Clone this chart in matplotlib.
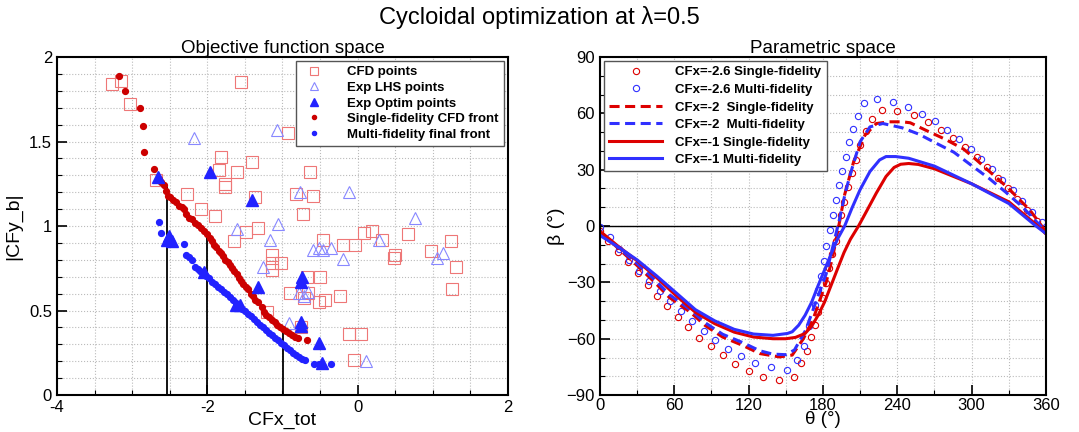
import numpy as np
import matplotlib.pyplot as plt
from matplotlib.ticker import MultipleLocator, FormatStrFormatter

plt.rcParams['font.family'] = ['Liberation Sans', 'DejaVu Sans']

# ---- objective function space ----
cfd_x = [-3.27, -3.15, -3.03, -1.55, -0.92, -1.82, -1.41, -1.84, -1.60, -1.76, -1.77, -0.63,
         -2.27, -1.36, -0.82, -0.59, -2.09, -1.90, -0.73, -2.68, -1.33, -1.49, -1.64, -0.46,
         -0.19, -0.03, 0.08, 0.19, 0.32, 0.67, 0.49, 0.50, 0.97, 1.24, 1.31, 1.26, -1.14,
         -1.14, -1.14, -1.02, -0.90, -0.67, -0.66, -0.72, -0.50, -0.52, -0.44, -0.24, -1.21,
         -0.75, -0.12, 0.05, -0.05]
cfd_y = [1.84, 1.86, 1.72, 1.85, 1.55, 1.41, 1.38, 1.33, 1.32, 1.25, 1.23, 1.32,
         1.19, 1.17, 1.19, 1.18, 1.10, 1.06, 1.07, 1.27, 0.99, 0.965, 0.91, 0.92,
         0.89, 0.89, 0.96, 0.97, 0.92, 0.95, 0.81, 0.83, 0.855, 0.91, 0.76, 0.63, 0.83,
         0.78, 0.74, 0.78, 0.605, 0.70, 0.605, 0.575, 0.70, 0.55, 0.565, 0.585, 0.49,
         0.40, 0.36, 0.36, 0.205]

lhs_x = [-2.18, -1.07, -0.77, -0.11, 0.76, -1.60, -1.06, -1.16, 0.29, -0.60, -0.51, -0.19,
         -1.26, 1.06, 1.13, -0.78, -0.72, -0.91, 0.11, -0.66, -0.46, -0.36]
lhs_y = [1.52, 1.57, 1.20, 1.20, 1.05, 0.98, 1.01, 0.92, 0.915, 0.86, 0.87, 0.805,
         0.755, 0.81, 0.84, 0.605, 0.585, 0.425, 0.20, 0.61, 0.86, 0.87]

opt_x = [-2.66, -1.97, -1.41, -2.51, -2.54, -2.47, -2.04, -1.33, -1.62, -1.56, -0.75, -0.74,
         -0.75, -0.75, -0.51, -0.47]
opt_y = [1.29, 1.32, 1.155, 0.94, 0.92, 0.91, 0.73, 0.64, 0.535, 0.53, 0.67, 0.70,
         0.43, 0.41, 0.31, 0.19]

sf_x = [-3.17, -3.09, -2.90, -2.85, -2.84, -2.71, -2.64, -2.61, -2.58, -2.55, -2.52, -2.49,
        -2.46, -2.42, -2.38, -2.34, -2.31, -2.28, -2.24, -2.20, -2.16, -2.12, -2.09, -2.05,
        -2.01, -1.97, -1.94, -1.91, -1.88, -1.85, -1.82, -1.79, -1.76, -1.73, -1.70, -1.67,
        -1.64, -1.61, -1.58, -1.55, -1.52, -1.49, -1.46, -1.42, -1.39, -1.36, -1.32, -1.27,
        -1.25, -1.22, -1.18, -1.14, -1.10, -1.07, -1.03, -0.99, -0.95, -0.91, -0.87, -0.83,
        -0.79, -0.67]
sf_y = [1.89, 1.80, 1.70, 1.59, 1.44, 1.34, 1.28, 1.26, 1.24, 1.21, 1.18, 1.17,
        1.155, 1.14, 1.12, 1.11, 1.10, 1.07, 1.05, 1.04, 1.02, 1.005, 0.99, 0.97,
        0.95, 0.93, 0.91, 0.89, 0.875, 0.855, 0.84, 0.82, 0.80, 0.785, 0.77, 0.75,
        0.735, 0.715, 0.695, 0.675, 0.66, 0.64, 0.625, 0.60, 0.585, 0.565, 0.55, 0.52,
        0.49, 0.475, 0.46, 0.445, 0.43, 0.415, 0.40, 0.39, 0.38, 0.365, 0.355, 0.345,
        0.335, 0.326]

mf_x = [-2.64, -2.61, -2.31, -2.28, -2.24, -2.21, -2.16, -2.13, -2.10, -2.06, -2.02, -1.98,
        -1.94, -1.90, -1.86, -1.82, -1.78, -1.74, -1.70, -1.66, -1.62, -1.58, -1.54, -1.50,
        -1.46, -1.42, -1.38, -1.34, -1.30, -1.26, -1.22, -1.18, -1.14, -1.10, -1.06, -1.02,
        -0.98, -0.94, -0.90, -0.86, -0.82, -0.78, -0.74, -0.70, -0.58, -0.52, -0.35]
mf_y = [1.025, 0.96, 0.895, 0.83, 0.815, 0.80, 0.76, 0.745, 0.735, 0.72, 0.705, 0.69,
        0.67, 0.655, 0.64, 0.625, 0.61, 0.595, 0.58, 0.56, 0.545, 0.53, 0.51, 0.495,
        0.48, 0.465, 0.45, 0.435, 0.415, 0.40, 0.385, 0.37, 0.355, 0.34, 0.325, 0.31,
        0.295, 0.28, 0.265, 0.25, 0.235, 0.225, 0.215, 0.205, 0.183, 0.183, 0.181]

vline_x = [-2.54, -2.0, -0.99]
vline_top = [1.23, 0.95, 0.40]

# ---- parametric space ----
sf26_t = [0, 6.5, 14.9, 22.7, 30.5, 38.4, 46.2, 54.3, 62.7, 71.3, 80.2, 89.6, 99.2, 109.1,
          120.1, 131.9, 144.8, 156.5, 162.5, 166.9, 170.3, 173.5, 176.1, 180, 182.6, 185.2,
          187.5, 190.2, 192.8, 194.9, 197.3, 200.4, 203.5, 206.6, 210.2, 214.5, 219.2, 227.5,
          240, 253.4, 264.5, 275, 285.2, 294.6, 304, 312.1, 321, 329, 336.8, 344.9, 352.4, 360]
sf26_b = [-2.5, -8, -13.6, -19.4, -25.2, -31.2, -37, -42.7, -48.5, -53.8, -59.5, -64, -68.8,
          -73.2, -77.1, -80.3, -82, -80.3, -72.9, -66.5, -59.3, -52.8, -45.8, -38.4, -30.3,
          -22.5, -15, -8, -1.2, 5.8, 13, 20.8, 28.2, 35.2, 43.1, 50.5, 57.2, 62, 61.5, 58.9,
          55.4, 51.3, 46.7, 42.1, 36.9, 31.4, 25.8, 20.1, 14.3, 8.7, 2.9, -2.5]

mf26_t = [0, 7.8, 15.6, 23.5, 31.3, 39.9, 48.3, 56.7, 65.3, 74.4, 83.6, 92.7, 103.1, 113.6,
          125.3, 137.9, 150.7, 159.3, 164.3, 168.8, 173.5, 176.1, 178.7, 180.5, 182.6, 185.5,
          187.8, 190.4, 193, 195.7, 198.3, 200.9, 204, 208, 213, 223.3, 236.2, 248.3, 259.6,
          270.1, 280.4, 290, 299.4, 307.2, 316.7, 324.7, 333.1, 340.9, 349, 356.5]
mf26_b = [-0.5, -5.8, -12, -18.2, -23.8, -29.1, -34.4, -40, -45.3, -50.8, -55.9, -60.9,
          -65.3, -69.3, -72.9, -75.3, -76.4, -71.4, -63.9, -53, -42.3, -34.3, -26.4, -18.8,
          -10.6, -2.3, 5.8, 14.1, 22, 29.4, 37, 44.5, 51.6, 58.5, 65.3, 67.5, 66.1, 63.6,
          59.7, 55.7, 51.3, 46.2, 41.1, 35.8, 30.2, 24.5, 19.3, 13.5, 7.6, 2.0]

sf2_t = [0, 15, 30, 45, 56, 73, 85, 99, 115, 129, 145, 155.2, 164.3, 172.2, 182.6, 187.8,
         193, 197.5, 204.8, 213.9, 223.1, 233.5, 244, 250.4, 264, 278.4, 293.5, 303.9, 319.6,
         330, 337.8, 347, 360]
sf2_b = [-3, -12, -21, -30.5, -38, -45.9, -53, -59.1, -63.5, -67.9, -69.7, -68.7, -59.9,
         -49.3, -29.9, -16.7, 0.9, 16.7, 34.3, 48.4, 54.6, 55.5, 55.5, 55, 50.7, 46.3, 41,
         35.2, 26, 19.9, 14.6, 8.5, -3]

mf2_t = [0, 15, 30, 45, 56, 73, 85, 99, 115, 129, 139.5, 150, 157, 166, 174, 182.6, 189.1,
         193, 198.3, 203.5, 210, 217.9, 228.3, 244, 257.5, 272.6, 285.7, 300, 314.4, 327.4,
         341, 360]
mf2_b = [-3, -11.5, -20, -29, -36.5, -44.5, -51.5, -57.6, -62, -66.4, -68.2, -68.5, -66,
         -55.5, -41, -25.5, -7.9, 2.6, 18.5, 30.8, 44.9, 52.8, 54.6, 52.3, 48.9, 43.7, 39.3,
         32.2, 25.2, 18.1, 10.2, -3]

sf1_t = [0, 14.4, 30, 45.7, 61.4, 77, 92.7, 108.4, 124, 139.7, 150, 157.8, 165.6, 170.9,
         176.1, 181.3, 186.5, 191.7, 197, 202.2, 208.7, 215.2, 223.1, 230.9, 237.4, 242.7,
         249.2, 257, 270, 300, 330, 351, 360]
sf1_b = [-2.7, -10.6, -18.5, -27.4, -37, -45.9, -52, -56.5, -59.1, -60, -60, -59.3, -57.2,
         -53.3, -47.5, -40.5, -31.7, -22.9, -14.1, -7, 0, 7.9, 17.6, 26.4, 31.2, 32.9,
         33.3, 32.8, 30.5, 22.5, 12.9, 1.4, -4]

mf1_t = [0, 14.4, 30, 45.7, 61.4, 77, 92.7, 108.4, 124, 139.7, 151.3, 155.2, 160.4, 165.6,
         170.9, 176.1, 181.3, 186.5, 191.7, 197.5, 203.5, 210, 217.9, 225.7, 230.9, 238.7,
         249.2, 270, 300, 330, 351, 360]
mf1_b = [-5, -11, -18, -26.5, -35.5, -44.5, -50.5, -55, -57.5, -58.2, -57.2, -56.3, -52.8,
         -47.5, -40.5, -31.7, -23.4, -15, -7, 0, 9.7, 19.4, 29, 35.2, 37, 37, 36.1, 31.9,
         22.5, 12, 0.5, -4]

red = '#dd0000'
blue = '#3030ff'

fig = plt.figure(figsize=(10.79, 4.32), dpi=100)
fig.text(0.5, 0.96, 'Cycloidal optimization at \u03bb=0.5', fontsize=17, ha='center', va='center')

ax1 = fig.add_axes([0.0528, 0.0855, 0.418, 0.7825])
ax1.plot(cfd_x, cfd_y, 's', ms=8, mfc='none', mec='#ee7777', mew=0.8, label='CFD points')
ax1.plot(lhs_x, lhs_y, '^', ms=9, mfc='none', mec='#8888ff', mew=0.8, label='Exp LHS points')
ax1.plot(opt_x, opt_y, '^', ms=8, color='#2222ff', mec='#2222ff', label='Exp Optim points', zorder=4)
ax1.plot(sf_x, sf_y, 'o', ms=4.2, color='#cc0000', label='Single-fidelity CFD front', zorder=3)
ax1.plot(mf_x, mf_y, 'o', ms=4.2, color='#2222ff', label='Multi-fidelity final front', zorder=3)
for xv, yt in zip(vline_x, vline_top):
    ax1.plot([xv, xv], [0, yt], color='black', lw=1.3, zorder=2)
ax1.set_xlim(-4, 2)
ax1.set_ylim(0, 2)
ax1.xaxis.set_major_locator(MultipleLocator(2))
ax1.xaxis.set_minor_locator(MultipleLocator(0.5))
ax1.yaxis.set_major_locator(MultipleLocator(0.5))
ax1.yaxis.set_minor_locator(MultipleLocator(0.1))
ax1.xaxis.set_major_formatter(FormatStrFormatter('%g'))
ax1.yaxis.set_major_formatter(FormatStrFormatter('%g'))
ax1.set_xlabel('CFx_tot', fontsize=14, labelpad=-2)
ax1.set_ylabel('|CFy_b|', fontsize=14)
ax1.yaxis.set_label_coords(-0.078, 0.5)
ax1.set_title('Objective function space', fontsize=13.5, pad=2)
ax1.legend(loc='upper right', prop={'weight': 'bold', 'size': 9.5}, fancybox=False,
           edgecolor='#555555', framealpha=1, borderaxespad=0.3, handletextpad=1.5,
           labelspacing=0.25, markerscale=0.7)

ax2 = fig.add_axes([0.556, 0.0855, 0.4134, 0.7825])
ax2.axhline(0, color='black', lw=1, zorder=1)
ax2.plot(sf26_t, sf26_b, 'o', ms=4.5, mfc='none', mec=red, mew=0.8, label='CFx=-2.6 Single-fidelity')
ax2.plot(mf26_t, mf26_b, 'o', ms=4.5, mfc='none', mec=blue, mew=0.8, label='CFx=-2.6 Multi-fidelity')
ax2.plot(sf2_t, sf2_b, '--', color=red, lw=2.2, dashes=(3.3, 1.8), label='CFx=-2  Single-fidelity')
ax2.plot(mf2_t, mf2_b, '--', color=blue, lw=2.2, dashes=(3.3, 1.8), label='CFx=-2  Multi-fidelity')
ax2.plot(sf1_t, sf1_b, '-', color=red, lw=2.2, label='CFx=-1 Single-fidelity')
ax2.plot(mf1_t, mf1_b, '-', color=blue, lw=2.2, label='CFx=-1 Multi-fidelity')
ax2.set_xlim(0, 360)
ax2.set_ylim(-90, 90)
ax2.xaxis.set_major_locator(MultipleLocator(60))
ax2.xaxis.set_minor_locator(MultipleLocator(30))
ax2.yaxis.set_major_locator(MultipleLocator(30))
ax2.yaxis.set_minor_locator(MultipleLocator(10))
ax2.set_xlabel('\u03b8 (\u00b0)', fontsize=13.5, labelpad=-1)
ax2.set_ylabel('\u03b2 (\u00b0)', fontsize=14)
ax2.yaxis.set_label_coords(-0.078, 0.5)
ax2.set_title('Parametric space', fontsize=13.5, pad=2)
ax2.legend(loc='upper left', prop={'weight': 'bold', 'size': 9.5}, fancybox=False,
           edgecolor='#555555', framealpha=1, borderaxespad=0.3, handlelength=4.0,
           labelspacing=0.4, handletextpad=1.0)
ax2.tick_params(axis='x', which='major', pad=2)

for ax in (ax1, ax2):
    ax.grid(True, which='both', ls=':', color='#bbbbbb', lw=0.8)
    ax.tick_params(which='both', direction='in', top=False, right=False, labelsize=12)
    ax.tick_params(which='major', length=7, width=1.2)
    ax.tick_params(which='minor', length=3.5, width=0.8)
    ax.set_axisbelow(True)
    for s in ax.spines.values():
        s.set_linewidth(1.5)

fig.savefig('out.png', dpi=100)
